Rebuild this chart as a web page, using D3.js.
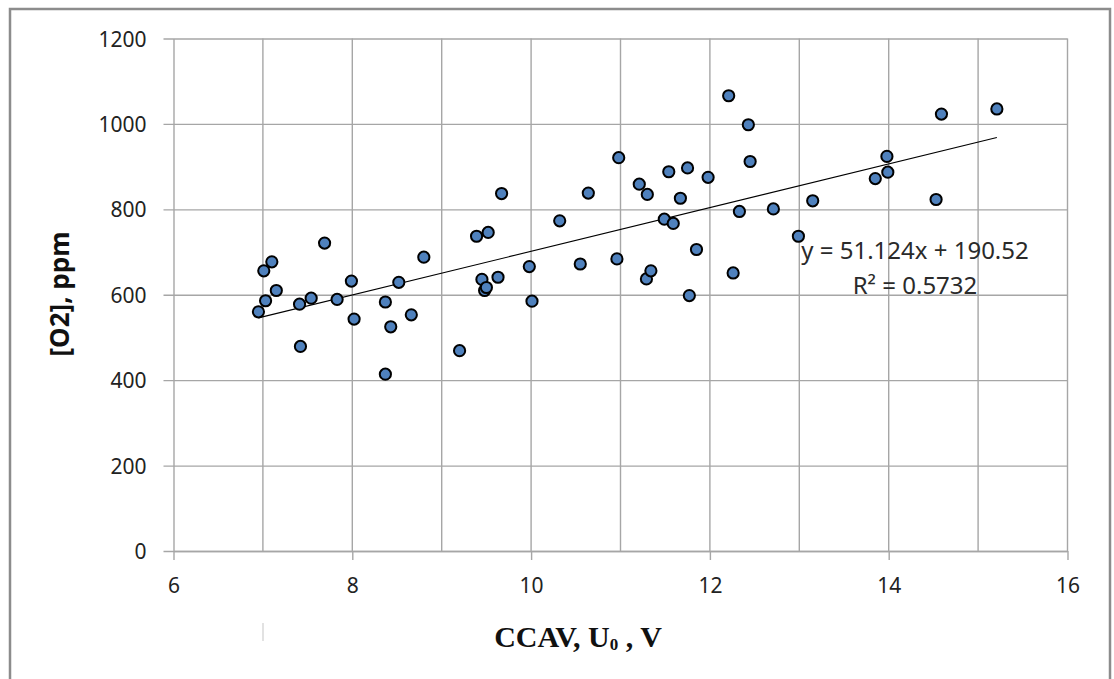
<!DOCTYPE html>
<html>
<head>
<meta charset="utf-8">
<script src="https://cdn.jsdelivr.net/npm/d3@7"></script>
<style>
  body { margin: 0; background: #fff; }
</style>
</head>
<body>
<div id="chart"></div>
<script>
// CCAV voltage (x) and O2 concentration (y)
const ccav = [
  6.95, 7.01, 7.03, 7.10, 7.15, 7.41, 7.42, 7.54, 7.69, 7.83,
  7.99, 8.02, 8.37, 8.37, 8.43, 8.52, 8.66, 8.80, 9.20, 9.39,
  9.45, 9.48, 9.50, 9.52, 9.63, 9.67, 9.98, 10.01, 10.32, 10.55,
  10.64, 10.96, 10.98, 11.21, 11.29, 11.30, 11.34, 11.49, 11.54, 11.59,
  11.67, 11.75, 11.77, 11.85, 11.98, 12.21, 12.26, 12.33, 12.43, 12.45,
  12.71, 12.99, 13.15, 13.85, 13.98, 13.99, 14.53, 14.59, 15.21
];
const o2 = [
  560, 656, 586, 677, 610, 578, 479, 592, 721, 589,
  632, 543, 583, 414, 525, 629, 553, 688, 469, 737,
  636, 610, 617, 746, 641, 837, 666, 585, 773, 672,
  838, 684, 921, 859, 637, 835, 656, 777, 888, 767,
  826, 897, 598, 706, 875, 1066, 651, 795, 998, 912,
  801, 737, 820, 872, 924, 887, 823, 1023, 1035
];
const xTicks = [6, 8, 10, 12, 14, 16];
const yTicks = [0, 200, 400, 600, 800, 1000, 1200];
const slope = 51.124, intercept = 190.52;
const eqLines = ["y = 51.124x + 190.52", "R² = 0.5732"];

const points = ccav.map((v, i) => ({ x: v, y: o2[i] }));

const W = 1114, H = 679;
const plot = { left: 173.5, right: 1067.5, top: 38.5, bottom: 551 };

const svg = d3
  .select("#chart")
  .append("svg")
  .attr("width", W)
  .attr("height", H);

// outer frame
svg
  .append("rect")
  .attr("x", 10)
  .attr("y", 9)
  .attr("width", 1100)
  .attr("height", 720)
  .attr("fill", "none")
  .attr("stroke", "#8c8c8c")
  .attr("stroke-width", 2.5);

const x = d3.scaleLinear().domain([6, 16]).range([plot.left, plot.right]);
const y = d3.scaleLinear().domain([0, 1200]).range([plot.bottom, plot.top]);

const gridColor = "#a6a6a6";

// vertical grid every 1 V
svg
  .append("g")
  .selectAll("line")
  .data(d3.range(7, 17))
  .join("line")
  .attr("x1", (d) => x(d))
  .attr("x2", (d) => x(d))
  .attr("y1", y(1200))
  .attr("y2", y(0))
  .attr("stroke", gridColor)
  .attr("stroke-width", 1.4);

// x axis with outside ticks
svg
  .append("g")
  .attr("transform", `translate(0, ${y(0)})`)
  .call(d3.axisBottom(x).tickValues(xTicks).tickSize(9).tickSizeOuter(0).tickFormat(d3.format("d")))
  .call((g) => g.select(".domain").attr("stroke", gridColor).attr("stroke-width", 1.4))
  .call((g) => g.selectAll(".tick line").attr("stroke", gridColor).attr("stroke-width", 1.4))
  .call((g) =>
    g
      .selectAll(".tick text")
      .attr("y", 42)
      .attr("dy", 0)
      .attr("fill", "#222")
      .style("font-family", "Noto Sans")
      .style("font-size", "21px")
  );

// y axis + horizontal grid
svg
  .append("g")
  .attr("transform", `translate(${x(6)}, 0)`)
  .call(d3.axisLeft(y).tickValues(yTicks).tickSize(10).tickSizeOuter(0).tickFormat(d3.format("d")))
  .call((g) => g.select(".domain").attr("stroke", gridColor).attr("stroke-width", 1.4))
  .call((g) =>
    g
      .selectAll(".tick line")
      .attr("x2", x(16) - x(6))
      .attr("x1", -10)
      .attr("stroke", gridColor)
      .attr("stroke-width", 1.4)
  )
  .call((g) =>
    g
      .selectAll(".tick text")
      .attr("x", -27)
      .attr("dy", "0.36em")
      .attr("fill", "#222")
      .style("font-family", "Noto Sans")
      .style("font-size", "21px")
  );

// linear trend line over the data range
const xr = d3.extent(ccav);
svg
  .append("line")
  .attr("x1", x(xr[0]))
  .attr("y1", y(slope * xr[0] + intercept))
  .attr("x2", x(xr[1]))
  .attr("y2", y(slope * xr[1] + intercept))
  .attr("stroke", "#000")
  .attr("stroke-width", 1.1);

// scatter markers
svg
  .append("g")
  .selectAll("circle")
  .data(points)
  .join("circle")
  .attr("cx", (d) => x(d.x))
  .attr("cy", (d) => y(d.y))
  .attr("r", 5.6)
  .attr("fill", "#4f81bd")
  .attr("stroke", "#000")
  .attr("stroke-width", 2);

// regression equation
svg
  .append("g")
  .selectAll("text")
  .data(eqLines)
  .join("text")
  .attr("x", 915)
  .attr("y", (d, i) => 259 + i * 35)
  .attr("text-anchor", "middle")
  .attr("fill", "#2a2a2a")
  .style("font-family", "Noto Sans")
  .style("font-size", "24px")
  .text((d) => d);

// axis titles
svg
  .append("text")
  .attr("transform", "translate(69, 294) rotate(-90)")
  .attr("text-anchor", "middle")
  .attr("fill", "#111")
  .style("font-family", "Noto Sans")
  .style("font-weight", "bold")
  .style("font-size", "26px")
  .text("[O2], ppm");

const xt = svg
  .append("text")
  .attr("x", 578)
  .attr("y", 647)
  .attr("text-anchor", "middle")
  .attr("fill", "#111")
  .style("font-family", "Liberation Serif")
  .style("font-weight", "bold")
  .style("font-size", "30px");
xt.append("tspan").text("CCAV, U");
xt.append("tspan").attr("dy", 3).style("font-size", "17px").text("0");
xt.append("tspan").attr("dy", -3).text(" , V");

// faint stray mark left of the axis title
svg
  .append("line")
  .attr("x1", 263)
  .attr("x2", 263)
  .attr("y1", 623)
  .attr("y2", 641)
  .attr("stroke", "#cfcfcf")
  .attr("stroke-width", 1.2);
</script>
</body>
</html>
